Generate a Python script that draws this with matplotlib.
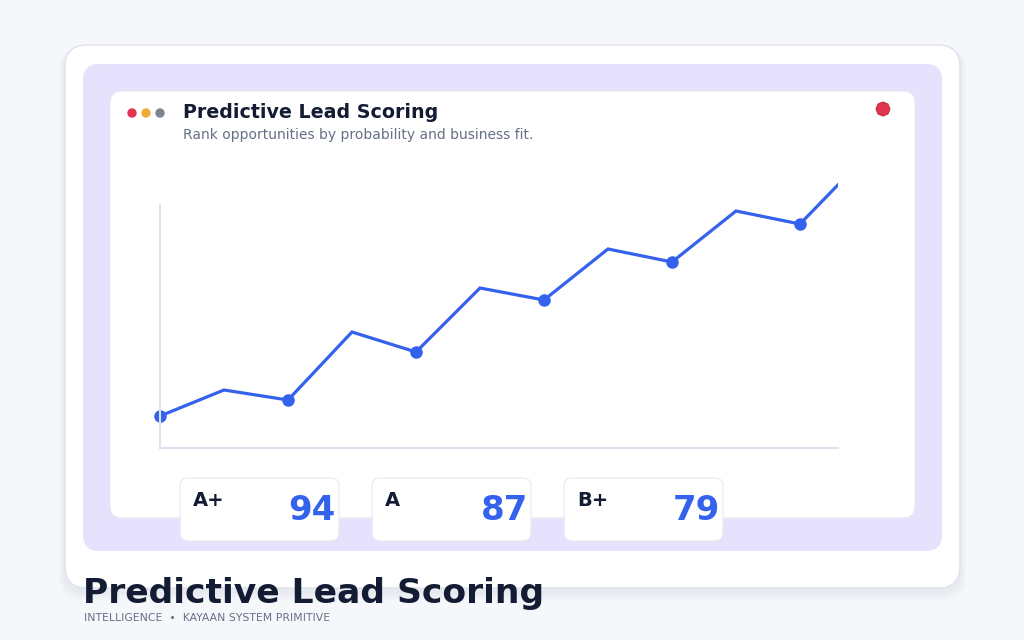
import matplotlib.pyplot as plt
from matplotlib.patches import FancyBboxPatch, Circle, RegularPolygon

plt.rcParams['font.family'] = ['DejaVu Sans']

# chart data
points = [0, 1, 2, 3, 4, 5, 6, 7, 8, 9, 10, 11]
scores = [32, 58, 48, 116, 96, 160, 148, 199, 186, 237, 224, 290]

grades = ['A+', 'A', 'B+']
grade_values = ['94', '87', '79']

title = 'Predictive Lead Scoring'
subtitle = 'Rank opportunities by probability and business fit.'
footer = 'INTELLIGENCE  \u2022  KAYAAN SYSTEM PRIMITIVE'

W, H = 1024, 640
blue = '#3462ed'
navy = '#141c33'
gray = '#667085'

fig = plt.figure(figsize=(W / 100, H / 100), dpi=100)
fig.patch.set_facecolor('#f6f7fb')

bg = fig.add_axes([0, 0, 1, 1])
bg.set_xlim(0, W)
bg.set_ylim(0, H)
bg.axis('off')


def box(x0, y0, x1, y1, r, fc, ec='none', lw=0, z=1, alpha=1.0):
    # pixel coords with y measured from the top
    p = FancyBboxPatch((x0 + r, H - y1 + r), (x1 - x0) - 2 * r, (y1 - y0) - 2 * r,
                       boxstyle='round,pad=%f' % r, fc=fc, ec=ec, lw=lw,
                       zorder=z, alpha=alpha)
    bg.add_patch(p)


# outer card with soft shadow
for i, a in enumerate([0.025, 0.02, 0.015]):
    box(65 - 2 - 2 * i, 45 + 2, 960 + 2 + 2 * i, 588 + 6 + 3 * i, 24, '#1e2a50', z=0.5, alpha=a)
box(65, 45, 960, 588, 22, 'white', ec='#dfe2ea', lw=1, z=1)
box(83, 64, 942, 551, 16, '#e6e1fc', z=2)
box(110, 91, 915, 518, 12, 'white', ec='#e8e8f2', lw=0.8, z=3)

# window dots
for x, c in zip([132, 146, 160], ['#e0344f', '#f2a93b', '#7d8591']):
    bg.add_patch(Circle((x, H - 113), 4, color=c, zorder=4))
bg.add_patch(RegularPolygon((883, H - 109), 8, radius=7, fc='#e0344f',
                            ec='#c72a43', lw=0.8, zorder=4))

bg.text(183, H - 112, title, fontsize=13.7, fontweight='bold', color=navy,
        va='center', ha='left', zorder=5)
bg.text(183, H - 135, subtitle, fontsize=10, color=gray,
        va='center', ha='left', zorder=5)

# grade cards
for i, (g, v) in enumerate(zip(grades, grade_values)):
    x0 = 180 + 192 * i
    box(x0, 478, x0 + 159, 541, 8, 'white', ec='#e6e7f0', lw=0.8, z=6)
    bg.text(x0 + 13, H - 501, g, fontsize=14, fontweight='bold', color=navy,
            va='center', ha='left', zorder=7)
    bg.text(x0 + 156, H - 510, v, fontsize=24.5, fontweight='bold', color=blue,
            va='center', ha='right', zorder=7)

# footer
bg.text(83, H - 594, title, fontsize=24.8, fontweight='bold', color=navy,
        va='center', ha='left', zorder=7)
bg.text(84, H - 618, footer, fontsize=7.8, color=gray,
        va='center', ha='left', zorder=7)

# line chart
ax = fig.add_axes([160 / W, (H - 448) / H, 678 / W, 298 / H])
ax.set_zorder(5)
ax.patch.set_visible(False)
ax.plot(points, scores, color=blue, lw=2.3, solid_joinstyle='miter', clip_on=True)
ax.plot(points[:11:2], scores[:11:2], 'o', color=blue, markersize=8, clip_on=False)
ax.set_xlim(0, 678 / 64)
ax.set_ylim(0, 298)
for s in ['top', 'right']:
    ax.spines[s].set_visible(False)
for s in ['left', 'bottom']:
    ax.spines[s].set_color('#dde1ee')
    ax.spines[s].set_linewidth(1.5)
ax.spines['left'].set_bounds(0, 243)
ax.set_xticks([])
ax.set_yticks([])

fig.savefig('out.png', dpi=100, facecolor=fig.get_facecolor())
